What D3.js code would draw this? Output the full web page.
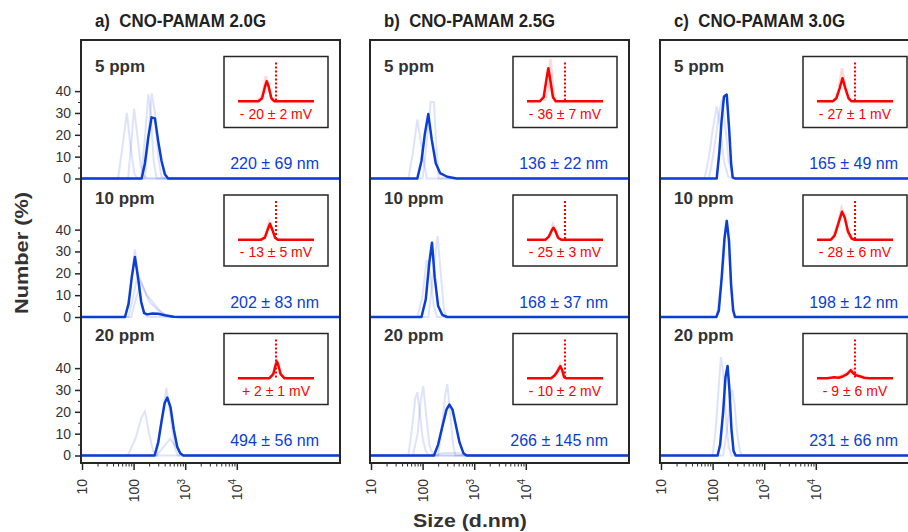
<!DOCTYPE html>
<html>
<head>
<meta charset="utf-8">
<script src="https://cdn.jsdelivr.net/npm/d3@7"></script>
<style>
    body { margin: 0; background: #fff; }
    svg { display: block; font-family: "Liberation Sans", Arial, sans-serif; }
    .title { white-space: pre; }
</style>
</head>
<body>
<svg id="chart" width="908" height="532"></svg>
<script>
/** Chart data **/
var panelTitles = ["a)  CNO-PAMAM 2.0G", "b)  CNO-PAMAM 2.5G", "c)  CNO-PAMAM 3.0G"];
var concLabels  = ["5 ppm", "10 ppm", "20 ppm"];
var yTicks      = [0, 10, 20, 30, 40];
var xTicks      = [10, 100, 1000, 10000];
var xTickBase   = ["10", "100", "10", "10"];
var xTickSup    = ["", "", "3", "4"];

var sizeLabelsA = ["220 ± 69 nm", "202 ± 83 nm", "494 ± 56 nm"];
var sizeLabelsB = ["136 ± 22 nm", "168 ± 37 nm", "266 ± 145 nm"];
var sizeLabelsC = ["165 ± 49 nm", "198 ± 12 nm", "231 ± 66 nm"];
var zetaLabelsA = ["- 20 ± 2 mV", "- 13 ± 5 mV", "+ 2 ± 1 mV"];
var zetaLabelsB = ["- 36 ± 7 mV", "- 25 ± 3 mV", "- 10 ± 2 mV"];
var zetaLabelsC = ["- 27 ± 1 mV", "- 28 ± 6 mV", "- 9 ± 6 mV"];

// Size distributions: [size (d.nm), number %] -- averaged curve per concentration
var mainA = [
    [[143,0],[166,7],[193,19],[223,28],[259,27.5],[300,17],[348,8],[403,2],[467,0]],
    [[68,0],[80,6],[92,18],[106,27.5],[122,18],[140,7],[160,1.8],[184,1.2],[230,1.6],[300,1.5],[400,0.8],[600,0.1],[800,0]],
    [[255,0],[300,6],[350,16],[400,24],[450,26.5],[520,22],[600,12],[700,4],[800,1],[920,0]]
];
var mainB = [
    [[79,0],[95,8],[110,20],[129,29.5],[150,18],[180,7],[218,2.5],[300,0.8],[455,0]],
    [[95,0],[115,8],[135,25],[152,34],[172,18],[200,5],[240,1],[300,0]],
    [[166,0],[200,5],[240,13],[290,21],[330,23.3],[380,21],[440,14],[520,6],[620,1],[714,0]]
];
var mainC = [
    [[120,0],[135,12],[150,27],[166,37.5],[188,38.4],[210,22],[228,7],[245,0.5],[270,0]],
    [[118,0],[132,3],[150,18],[170,36],[188,44],[208,35],[228,15],[250,3],[272,0]],
    [[125,0],[140,5],[160,20],[178,36],[195,41],[212,30],[232,12],[255,2],[280,0]]
];

// Individual replicate measurements (faint)
var repsA = [
    [[[50,0],[62,16],[74,30],[88,14],[104,2],[120,0]],
     [[78,0],[90,16],[102,32],[118,20],[137,6],[160,1],[190,0]],
     [[140,0],[165,18],[193,38.5],[215,30],[245,8],[280,0]],
     [[165,0],[195,20],[224,39],[260,30],[300,10],[345,1],[400,0]]],
    [[[70,0],[85,12],[106,31],[125,15],[150,4],[180,0]],
     [[80,0],[100,10],[120,20],[150,14],[200,7],[300,3],[450,0.5],[600,0]],
     [[90,0],[110,8],[140,16],[180,10],[250,6],[350,2],[500,0]]],
    [[[77,0],[110,8],[140,17],[166,20.2],[200,10],[240,2],[270,0]],
     [[280,0],[340,14],[430,31],[520,18],[620,4],[720,0]],
     [[280,0],[380,4],[508,7.6],[620,5],[800,1],[950,0]]]
];
var repsB = [
    [[[53,0],[65,12],[79,27],[95,15],[120,0]],
     [[100,0],[125,20],[143,35],[166,35],[185,15],[205,0]]],
    [[[80,0],[100,10],[120,26],[140,20],[165,5],[190,0]],
     [[130,0],[160,20],[195,37],[225,20],[260,3],[290,0]]],
    [[[53,0],[62,12],[72,26],[79,29],[88,20],[100,8],[115,2],[130,0]],
     [[65,0],[80,10],[92,25],[103,31.7],[118,18],[135,5],[160,0]],
     [[200,0],[240,14],[275,28],[302,32.7],[340,20],[390,5],[430,0]],
     [[160,0],[250,1.2],[500,1.2],[700,0]]]
];
var repsC = [
    [[[70,0],[85,10],[100,22],[120,33],[140,24],[165,8],[200,1],[240,0]],
     [[85,0],[105,12],[130,28],[150,36],[172,26],[205,8],[245,1],[275,0]]],
    [[[120,0],[155,20],[180,42],[200,38],[230,12],[265,0]]],
    [[[100,0],[115,12],[130,30],[145,45],[160,38],[180,18],[205,4],[230,0]],
     [[160,0],[190,12],[215,25],[240,30],[265,24],[300,10],[340,2],[370,0]]]
];

// Zeta potential insets: [mV, counts (arb.)]
var zetaMainA = [
    [[-82,0],[-38,0],[-30,3],[-24,14],[-20,20],[-16,15],[-10,3],[-4,0],[82,0]],
    [[-82,0],[-32,0],[-24,2],[-18,10],[-13,16],[-8,10],[-2,2],[4,0],[82,0]],
    [[-82,0],[-14,0],[-6,4],[-1,13],[2,16.6],[5,13],[10,4],[18,0],[82,0]]
];
var zetaMainB = [
    [[-82,0],[-54,0],[-46,4],[-40,22],[-36,33],[-32,22],[-26,4],[-20,0],[82,0]],
    [[-82,0],[-42,0],[-35,3],[-29,9],[-25,12],[-21,9],[-15,2],[-8,0],[82,0]],
    [[-82,0],[-30,0],[-22,3],[-16,7],[-10,12],[-6,8],[-2,1],[2,0],[82,0]]
];
var zetaMainC = [
    [[-82,0],[-48,0],[-40,3],[-33,13],[-27,23],[-21,13],[-14,3],[-8,0],[82,0]],
    [[-82,0],[-52,0],[-44,4],[-36,16],[-28,28],[-22,22],[-15,8],[-7,1],[-2,0],[82,0]],
    [[-82,0],[-60,0],[-45,1],[-35,0.5],[-25,2],[-17,4],[-9,8],[-4,5],[2,3],[10,2],[20,0.5],[30,0],[82,0]]
];
var zetaRepsA = [
    [[[-40,0],[-30,6],[-22,25],[-17,16],[-10,2],[-4,0]]],
    [[[-34,0],[-22,5],[-15,18],[-9,12],[-2,2],[4,0]]],
    [[[-14,0],[-4,6],[1,19],[5,14],[12,3],[18,0]]]
];
var zetaRepsB = [
    [[[-44,0],[-36,12],[-31,42],[-26,14],[-20,0]]],
    [[[-40,0],[-31,6],[-26,15],[-20,8],[-12,0]]],
    [[[-28,0],[-18,6],[-11,14],[-6,7],[0,0]]]
];
var zetaRepsC = [
    [[[-46,0],[-36,10],[-28,33],[-22,18],[-12,0]]],
    [[[-50,0],[-38,14],[-29,32],[-23,24],[-14,4],[-6,0]]],
    [[[-40,0],[-28,3],[-14,6],[-6,9],[2,5],[12,2],[24,0]]]
];

/** Layout **/
var panelLeft   = [81, 370, 660];
var panel_w     = 259;
var frame_top   = 40;
var frame_bot   = 463;
var row_h       = 138.5;
var ppmLabelY   = [72, 204, 340.5];

var color_blue  = '#0b3ed4';
var color_red   = '#ff0000';
var color_frame = '#262626';
var color_text  = '#333333';

var svg = d3.select("#chart");

var panels = [
    { main: mainA, reps: repsA, zMain: zetaMainA, zReps: zetaRepsA, sizeLab: sizeLabelsA, zetaLab: zetaLabelsA },
    { main: mainB, reps: repsB, zMain: zetaMainB, zReps: zetaRepsB, sizeLab: sizeLabelsB, zetaLab: zetaLabelsB },
    { main: mainC, reps: repsC, zMain: zetaMainC, zReps: zetaRepsC, sizeLab: sizeLabelsC, zetaLab: zetaLabelsC }
];

panels.forEach(function(p, pi) {
    var x0 = panelLeft[pi];
    var g = svg.append("g");

    var xScale = d3.scaleLog()
        .domain([10, 1e6])
        .range([x0 + 1, x0 + panel_w]);

    // title (double space kept)
    g.append("text")
        .attr("class", "title")
        .attr("x", x0 + 14)
        .attr("y", 27)
        .attr("font-size", 18)
        .attr("font-weight", "bold")
        .attr("fill", "#222")
        .attr("textLength", 171)
        .attr("lengthAdjust", "spacingAndGlyphs")
        .text(panelTitles[pi]);

    for (var r = 0; r < 3; r++) {
        var rowTop = frame_top + r * row_h;
        var yScale = d3.scaleLinear()
            .domain([0, 63.4])
            .range([rowTop + row_h, rowTop]);

        var line = d3.line()
            .x(function(d) { return xScale(d[0]); })
            .y(function(d) { return yScale(d[1]); });

        // faint replicates
        g.selectAll(null)
            .data(p.reps[r])
            .enter()
            .append("path")
            .attr("d", function(d) { return line([[10, 0]].concat(d, [[1e6, 0]])); })
            .attr("fill", "none")
            .attr("stroke", "#3a5be6")
            .attr("stroke-opacity", 0.17)
            .attr("stroke-width", 2);

        // main curve, baseline spans whole axis
        g.append("path")
            .attr("d", line([[10, 0]].concat(p.main[r], [[1e6, 0]])))
            .attr("fill", "none")
            .attr("stroke", color_blue)
            .attr("stroke-width", 2.5)
            .attr("stroke-linejoin", "round");

        g.append("text")
            .attr("x", x0 + 14)
            .attr("y", ppmLabelY[r])
            .attr("font-size", 17)
            .attr("font-weight", "bold")
            .attr("fill", color_text)
            .text(concLabels[r]);

        g.append("text")
            .attr("x", x0 + 238)
            .attr("y", yScale(0) - 9.5)
            .attr("text-anchor", "end")
            .attr("font-size", 16)
            .attr("fill", color_blue)
            .text(p.sizeLab[r]);

        // y axis only on first panel
        if (pi === 0) {
            var yAxis = d3.axisLeft(yScale).tickValues(yTicks).tickSize(6).tickPadding(4);
            var ya = g.append("g")
                .attr("transform", "translate(" + x0 + ",0)")
                .call(yAxis);
            ya.select(".domain").remove();
            ya.selectAll("text").attr("font-size", 14).attr("fill", color_text).attr("font-family", null);
            ya.selectAll("line").attr("stroke", color_frame).attr("stroke-width", 1.5);

            var yMinor = d3.axisLeft(yScale).tickValues([5, 15, 25, 35]).tickSize(3).tickFormat("");
            var ym = g.append("g")
                .attr("transform", "translate(" + x0 + ",0)")
                .call(yMinor);
            ym.select(".domain").remove();
            ym.selectAll("line").attr("stroke", color_frame).attr("stroke-width", 1);
        }

        // zeta potential inset
        var inL = x0 + 143, inT = rowTop + 16.5, in_w = 104, in_h = 71;
        var zx = d3.scaleLinear().domain([-82, 82]).range([inL + 14, inL + 90]);
        var zy = d3.scaleLinear().domain([0, 40]).range([inT + 44.7, inT + 4.7]);
        var zline = d3.line()
            .x(function(d) { return zx(d[0]); })
            .y(function(d) { return zy(d[1]); });

        g.append("rect")
            .attr("x", inL).attr("y", inT)
            .attr("width", in_w).attr("height", in_h)
            .attr("fill", "#fff")
            .attr("stroke", color_frame)
            .attr("stroke-width", 1.5);

        g.selectAll(null)
            .data(p.zReps[r])
            .enter()
            .append("path")
            .attr("d", zline)
            .attr("fill", "none")
            .attr("stroke", "#ff5050")
            .attr("stroke-opacity", 0.22)
            .attr("stroke-width", 2.5);

        g.append("line")
            .attr("x1", zx(0)).attr("x2", zx(0))
            .attr("y1", inT + 6).attr("y2", zy(0))
            .attr("stroke", color_red)
            .attr("stroke-width", 2)
            .attr("stroke-dasharray", "2,2");

        g.append("path")
            .attr("d", zline(p.zMain[r]))
            .attr("fill", "none")
            .attr("stroke", color_red)
            .attr("stroke-width", 2.5)
            .attr("stroke-linejoin", "round");

        g.append("text")
            .attr("x", inL + 52)
            .attr("y", inT + 62)
            .attr("text-anchor", "middle")
            .attr("font-size", 14)
            .attr("fill", color_red)
            .text(p.zetaLab[r]);
    }

    // frame
    g.append("rect")
        .attr("x", x0).attr("y", frame_top)
        .attr("width", panel_w).attr("height", frame_bot - frame_top)
        .attr("fill", "none")
        .attr("stroke", color_frame)
        .attr("stroke-width", 2);

    // x axis: major and minor ticks up to 10^4
    var minorVals = [];
    [10, 100, 1000].forEach(function(dec) {
        for (var k = 2; k <= 9; k++) minorVals.push(dec * k);
    });

    var xa = g.append("g")
        .attr("transform", "translate(0," + frame_bot + ")")
        .call(d3.axisBottom(xScale).tickValues(xTicks).tickSize(7).tickFormat(""));
    xa.select(".domain").remove();
    xa.selectAll("line").attr("stroke", color_frame).attr("stroke-width", 1.5);

    var xm = g.append("g")
        .attr("transform", "translate(0," + frame_bot + ")")
        .call(d3.axisBottom(xScale).tickValues(minorVals).tickSize(3.5).tickFormat(""));
    xm.select(".domain").remove();
    xm.selectAll("line").attr("stroke", color_frame).attr("stroke-width", 1);

    // rotated tick labels with superscripts
    xTicks.forEach(function(v, i) {
        var t = g.append("text")
            .attr("transform", "translate(" + xScale(v) + ",479) rotate(-90)")
            .attr("text-anchor", "end")
            .attr("dy", "0.35em")
            .attr("font-size", 14)
            .attr("fill", color_text)
            .text(xTickBase[i]);
        if (xTickSup[i]) {
            t.append("tspan")
                .attr("dy", "-0.55em")
                .attr("font-size", 10)
                .text(xTickSup[i]);
        }
    });
});

// axis titles
svg.append("text")
    .attr("transform", "translate(28,253) rotate(-90)")
    .attr("text-anchor", "middle")
    .attr("font-size", 19)
    .attr("font-weight", "bold")
    .attr("fill", color_text)
    .attr("textLength", 122)
    .attr("lengthAdjust", "spacingAndGlyphs")
    .text("Number (%)");

svg.append("text")
    .attr("x", 470)
    .attr("y", 527)
    .attr("text-anchor", "middle")
    .attr("font-size", 19)
    .attr("font-weight", "bold")
    .attr("fill", color_text)
    .attr("textLength", 114)
    .attr("lengthAdjust", "spacingAndGlyphs")
    .text("Size (d.nm)");
</script>
</body>
</html>
